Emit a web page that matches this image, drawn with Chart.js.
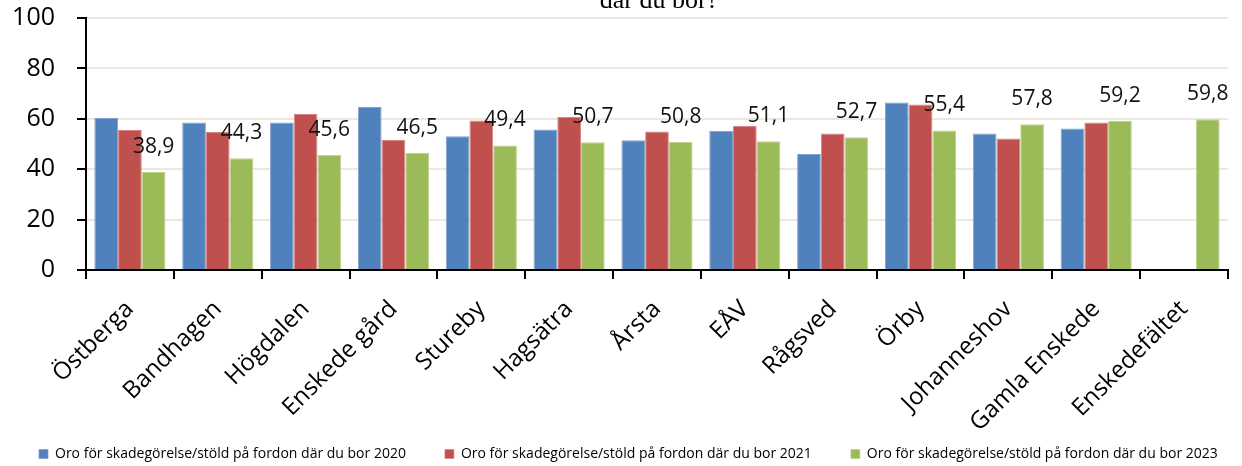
<!DOCTYPE html>
<html lang="sv">
<head>
<meta charset="utf-8">
<title>Oro för skadegörelse/stöld på fordon där du bor</title>
<script src="https://cdn.jsdelivr.net/npm/chart.js@4.4.0/dist/chart.umd.min.js"></script>
<style>
  html, body { margin: 0; padding: 0; background: #ffffff; }
  #wrap { width: 1242px; height: 466px; position: relative; }
</style>
</head>
<body>
<div id="wrap"><canvas id="chart" width="1242" height="466"></canvas></div>
<script>
// Stadsdelar / områden
const categories = ['Östberga', 'Bandhagen', 'Högdalen', 'Enskede gård', 'Stureby', 'Hagsätra',
  'Årsta', 'EÅV', 'Rågsved', 'Örby', 'Johanneshov', 'Gamla Enskede', 'Enskedefältet'];

// Andel (%) oroliga per år
const values2020 = [60.3, 58.5, 58.5, 64.7, 53.1, 55.8, 51.5, 55.3, 46.0, 66.5, 54.2, 56.2, null];
const values2021 = [55.6, 54.8, 61.9, 51.6, 59.3, 60.7, 55.0, 57.1, 54.2, 65.7, 52.2, 58.5, null];
const values2023 = [38.9, 44.3, 45.6, 46.5, 49.4, 50.7, 50.8, 51.1, 52.7, 55.4, 57.8, 59.2, 59.8];

// Serienamn och y-axelns skala
const seriesNames = [
  'Oro för skadegörelse/stöld på fordon där du bor 2020',
  'Oro för skadegörelse/stöld på fordon där du bor 2021',
  'Oro för skadegörelse/stöld på fordon där du bor 2023'
];
const yTicks = [0, 20, 40, 60, 80, 100];
const titleTail = 'där du bor?';

const FONT = "'Open Sans', 'Noto Sans', sans-serif";
const LEGEND_HEIGHT = 58;

// Värdeetiketter ovanför staplarna för 2023
const valueLabels = {
  id: 'valueLabels',
  afterDatasetsDraw(chart) {
    const ctx = chart.ctx;
    const meta = chart.getDatasetMeta(2);
    const data = chart.data.datasets[2].data;
    ctx.save();
    ctx.font = '21px ' + FONT;
    ctx.fillStyle = '#111111';
    ctx.textAlign = 'center';
    ctx.textBaseline = 'middle';
    meta.data.forEach((bar, i) => {
      const v = data[i];
      if (v == null) return;
      ctx.fillText(v.toFixed(1).replace('.', ','), bar.x, bar.y - 25);
    });
    ctx.restore();
  }
};

// Rubrikens sista rad, som sticker in överst
const titleLine = {
  id: 'titleLine',
  afterDraw(chart) {
    const ctx = chart.ctx;
    ctx.save();
    ctx.font = "26px 'Liberation Serif', 'DejaVu Serif', serif";
    ctx.fillStyle = '#000000';
    ctx.textAlign = 'center';
    ctx.textBaseline = 'alphabetic';
    ctx.fillText(titleTail, 659, 8);
    ctx.restore();
  }
};

// Förklaringen: en enda rad med breda mellanrum, lågt ner
const legendRow = {
  id: 'legendRow',
  beforeLayout(chart) {
    const lg = chart.legend;
    if (lg && !lg._rowFit) {
      const fit = lg.fit;
      lg.fit = function () {
        const mw = this.maxWidth;
        this.maxWidth = mw + 200;
        fit.call(this);
        this.maxWidth = mw;
        this.width = mw;
        this.height = LEGEND_HEIGHT;
      };
      const draw = lg.draw;
      lg.draw = function () {
        const r = this.right;
        this.right = r + 200;
        draw.call(this);
        this.right = r;
      };
      lg._rowFit = true;
    }
  }
};

const ctx = document.getElementById('chart').getContext('2d');
new Chart(ctx, {
  type: 'bar',
  data: {
    labels: categories,
    datasets: [
      { label: seriesNames[0], data: values2020, backgroundColor: '#4F81BD',
        borderColor: '#7FA2D0', borderWidth: { top: 1, left: 1, right: 1, bottom: 0 } },
      { label: seriesNames[1], data: values2021, backgroundColor: '#C0504D',
        borderColor: '#D98583', borderWidth: { top: 1, left: 1, right: 1, bottom: 0 } },
      { label: seriesNames[2], data: values2023, backgroundColor: '#9BBB59',
        borderColor: '#BDD48E', borderWidth: { top: 1, left: 1, right: 1, bottom: 0 } }
    ]
  },
  options: {
    responsive: false,
    animation: false,
    layout: { padding: { top: 18, right: 14, left: 0, bottom: 0 } },
    datasets: { bar: { barPercentage: 1.0, categoryPercentage: 0.81 } },
    plugins: {
      legend: {
        position: 'bottom',
        align: 'start',
        labels: {
          boxWidth: 9, boxHeight: 9, padding: 39,
          color: '#000000',
          font: { family: FONT, size: 14 }
        }
      },
      tooltip: { enabled: false },
      title: { display: false }
    },
    scales: {
      x: {
        grid: { offset: true, drawOnChartArea: false, color: '#000000', tickColor: '#000000', tickLength: 9, lineWidth: 2 },
        border: { color: '#000000', width: 2 },
        ticks: { color: '#000000', maxRotation: 45, minRotation: 45, padding: 16,
          font: { family: FONT, size: 24 } },
        afterFit(scale) {
          scale.height = 466 - 270 - LEGEND_HEIGHT;
          // låt de lutande namnen gå ut under axelns ruta
          scale._computeLabelArea = function () {
            return { top: this.top, left: 0, bottom: this.chart.height, right: this.chart.width };
          };
        }
      },
      y: {
        min: 0, max: 100,
        afterBuildTicks(scale) { scale.ticks = yTicks.map(v => ({ value: v })); },
        grid: { color: '#ECE8DE', lineWidth: 2, tickColor: '#000000', tickLength: 9 },
        border: { color: '#000000', width: 2 },
        ticks: { color: '#000000', padding: 22, font: { family: FONT, size: 25 } },
        afterFit(scale) {
          scale.width = 86;
          scale.paddingTop = 15;
          scale.paddingBottom = 15;
        }
      }
    }
  },
  plugins: [valueLabels, titleLine, legendRow]
});
</script>
</body>
</html>
